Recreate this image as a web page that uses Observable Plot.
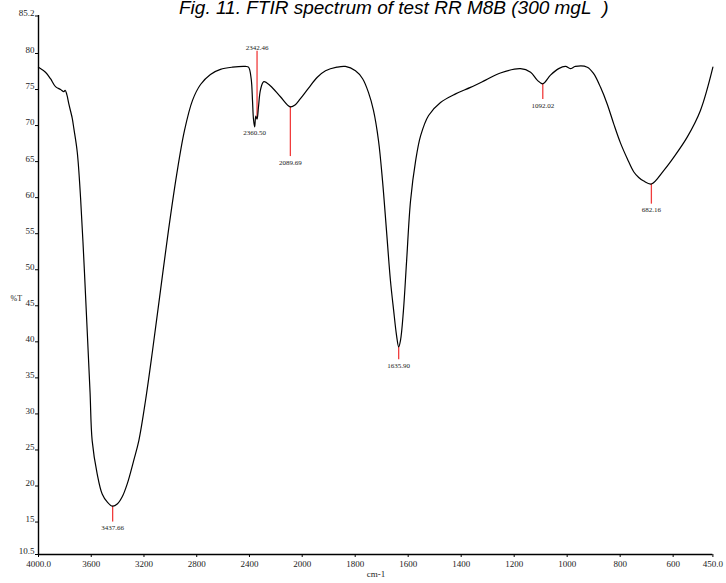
<!DOCTYPE html>
<html><head><meta charset="utf-8">
<script src="https://cdn.jsdelivr.net/npm/d3@7"></script>
<script src="https://cdn.jsdelivr.net/npm/@observablehq/plot@0.6"></script>
<style>
html,body{margin:0;padding:0;background:#fff;overflow:hidden}
#wrap{position:relative;width:726px;height:583px}
#title{position:absolute;left:179px;top:-2px;font-family:"Liberation Sans",Arial,sans-serif;font-style:italic;font-size:19px;line-height:19px;white-space:nowrap;color:#000;z-index:2}
#title sup{font-size:12px;vertical-align:baseline;position:relative;top:-21px;line-height:0}
</style></head><body>
<div id="wrap"><div id="title">Fig. 11. FTIR spectrum of test RR M8B (300 mgL<sup>-1</sup>)</div><div id="chart"></div></div>
<script>
// Spectrum (wavenumber, cm-1) and transmittance (%T)
const wavenumber = [4000,3947,3909,3871,3833,3808,3798,3785,3770,3744,3732,3706,3681,3651,3628,3609,3593,3555,3517,3479,3437.66,3403,3365,3327,3277,3239,3188,3135,3075,3014,2953,2893,2832,2771,2696,2620,2529,2430,2407,2387,2377,2370,2360.5,2352,2342.46,2332,2316,2291,2240,2165,2089.69,2052,2015,1976,1943,1912,1869,1837,1799,1772,1750,1731,1712,1697,1682,1667,1655,1644,1635.9,1629,1618,1606,1591,1572,1553,1523,1478,1421,1365,1308,1252,1176,1138,1113,1092.02,1063,1032,1006,988,969,924,900,874,849,824,799,773,749,730,711,682.16,635,598,547,497,450];
const transmittance = [78.1,77.4,76.5,75.4,75.0,74.7,74.9,74.3,73.0,71.0,69.6,66.3,60.0,49.5,40.5,33.0,26.3,21.7,18.9,17.8,17.2,17.5,18.5,20.3,23.6,26.3,31.9,38.8,47.1,55.5,63.1,69.3,73.5,75.7,77.1,77.8,78.1,78.2,78.1,76.5,73.5,71.0,69.8,71.3,70.9,72.5,75.0,76.1,75.5,74.0,72.6,72.9,73.7,75.2,76.7,77.6,78.1,78.2,77.6,76.5,74.6,72.1,67.9,62.4,55.5,48.5,44.4,40.9,39.3,40.2,44.3,51.2,59.6,65.1,68.6,71.4,73.2,74.4,75.3,76.3,77.3,77.9,77.4,76.3,75.8,77.0,77.9,78.2,77.9,78.2,78.1,77.2,75.3,73.0,70.2,67.6,65.4,63.6,62.8,62.3,61.9,63.8,65.6,68.4,72.1,78.1];

// Peak picks
const peakWn = [3437.66, 2360.50, 2342.46, 2089.69, 1635.90, 1092.02, 682.16];
const peakT = [17.2, 69.8, 70.9, 72.6, 39.3, 75.8, 61.9];
const peakLabels = ["3437.66", "2360.50", "2342.46", "2089.69", "1635.90", "1092.02", "682.16"];
// marker stick length in %T units (negative = downward, label below)
const peakStick = [-2.2, 0, 9.4, -6.9, -1.8, -2.2, -2.8];

// Axis ticks
const xTicks = [4000, 3600, 3200, 2800, 2400, 2000, 1800, 1600, 1400, 1200, 1000, 800, 600, 450];
const xTickLabels = ["4000.0", "3600", "3200", "2800", "2400", "2000", "1800", "1600", "1400", "1200", "1000", "800", "600", "450.0"];
const yTicks = [85.2, 80, 75, 70, 65, 60, 55, 50, 45, 40, 35, 30, 25, 20, 15, 10.5];
const yTickLabels = ["85.2", "80", "75", "70", "65", "60", "55", "50", "45", "40", "35", "30", "25", "20", "15", "10.5"];
const xLabel = "cm-1";
const yLabel = "%T";

const spectrum = wavenumber.map((w, i) => ({w, t: transmittance[i]}));
const peaks = peakWn.map((w, i) => ({w, t: peakT[i], end: peakT[i] + peakStick[i], label: peakLabels[i], up: peakStick[i] > 0}));

const chart = Plot.plot({
  width: 726,
  height: 583,
  marginLeft: 38,
  marginRight: 13,
  marginTop: 15,
  marginBottom: 29,
  style: {fontFamily: "'Liberation Serif', 'Times New Roman', serif", fontSize: "9px", color: "#222", background: "#fff"},
  x: {type: "linear", domain: [4000, 2000, 450], range: [38, 301.7, 712.4]},
  y: {domain: [10.5, 85.2], range: [554, 15.5]},
  marks: [
    Plot.axisX({ticks: xTicks, tickFormat: d => xTickLabels[xTicks.indexOf(d)], tickSize: 3, tickPadding: 3, label: null, stroke: "#000", fill: "#222"}),
    Plot.axisY({ticks: yTicks, tickFormat: () => "", tickSize: 3, tickPadding: 0, label: null, stroke: "#000"}),
    Plot.axisY({ticks: yTicks, tickFormat: d => yTickLabels[yTicks.indexOf(d)], tickSize: 0, tickPadding: 4, dy: -3, label: null, fill: "#222"}),
    Plot.ruleX([4000], {stroke: "#000", strokeWidth: 1.4}),
    Plot.ruleY([10.5], {x1: 4000, x2: 450, stroke: "#000", strokeWidth: 1.4}),
    Plot.text([yLabel], {frameAnchor: "left", dx: -28, dy: 13, fontSize: 8, fill: "#222"}),
    Plot.text([xLabel], {frameAnchor: "bottom", dy: 22, fontSize: 9, fill: "#222"}),
    Plot.ruleX(peaks, {x: "w", y1: "t", y2: "end", stroke: "#f03c3c", strokeWidth: 1.3}),
    Plot.line(spectrum, {x: "w", y: "t", stroke: "#000", strokeWidth: 1.2, curve: "catmull-rom"}),
    Plot.text(peaks.filter(d => !d.up), {x: "w", y: "end", text: "label", dy: 6, fontSize: 7, fill: "#222"}),
    Plot.text(peaks.filter(d => d.up), {x: "w", y: "end", text: "label", dy: -4, fontSize: 7, fill: "#222"})
  ]
});
document.getElementById("chart").appendChild(chart);
</script>
</body></html>
